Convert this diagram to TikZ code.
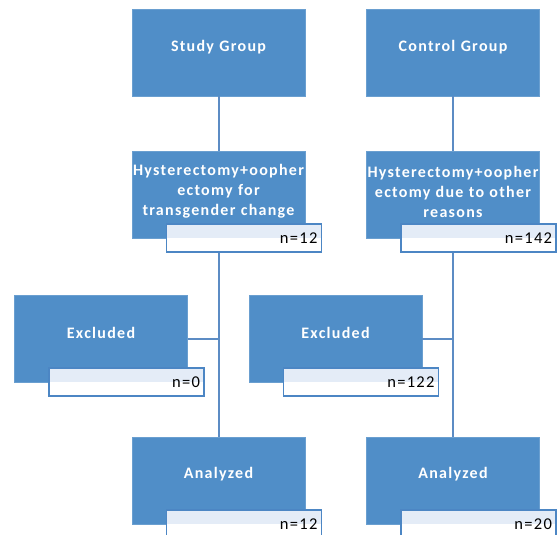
\documentclass[tikz,border=0pt]{standalone}
\usepackage{fontspec}
\setmainfont{Carlito}
\newfontfamily\boxfont[LetterSpace=8]{Carlito}
\usetikzlibrary{positioning}

\definecolor{boxblue}{RGB}{80,142,200}
\definecolor{annoline}{RGB}{76,134,196}
\definecolor{annofill}{RGB}{228,236,247}
\definecolor{linkblue}{RGB}{92,140,196}

\begin{document}
\begin{tikzpicture}[x=1pt, y=-1pt,
    blk/.style={fill=boxblue, draw=boxblue!85!white, minimum width=173pt, minimum height=87pt, inner sep=0pt},
    txt/.style={text=white, font=\boxfont\bfseries\fontsize{16}{20}\selectfont, align=center, text width=180pt, inner sep=0pt},
    cnt/.style={draw=annoline, line width=1.5pt, fill=white, minimum width=155pt, minimum height=28pt, inner sep=0pt,
      font=\boxfont\fontsize{16.5}{19}\selectfont, text width=147pt, align=right,
      path picture={\fill[annofill] (path picture bounding box.north west) rectangle (path picture bounding box.east);}},
    link/.style={draw=linkblue, line width=2pt}]
  \useasboundingbox (0,0) rectangle (558,535);

  % Nhom nghien cuu (ben trai)
  \node[blk] (study) at (218.5,52.5) {};
  \node[blk] (hystS) at (218.5,194.5) {};
  \node[blk] (exclS) at (101,338.5) {};
  \node[blk] (anaS) at (218.5,480.5) {};

  % Nhom doi chung (ben phai)
  \node[blk] (control) at (453,52.5) {};
  \node[blk] (hystC) at (453,194.5) {};
  \node[blk] (exclC) at (335.5,338.5) {};
  \node[blk] (anaC) at (453,480.5) {};

  % Chu trong cac khoi
  \node[txt] (studyT) at ([yshift=5pt]study.center) {Study Group};
  \node[txt] (controlT) at ([yshift=5pt]control.center) {Control Group};
  \node[txt] (hystST) at ([yshift=3pt]hystS.center) {Hysterectomy+oopher\\ectomy for\\transgender change};
  \node[txt] (hystCT) at ([yshift=3pt]hystC.center) {Hysterectomy+oopher\\ectomy due to other\\reasons};
  \node[txt] (exclST) at ([yshift=6pt]exclS.center) {Excluded};
  \node[txt] (exclCT) at ([yshift=6pt]exclC.center) {Excluded};
  \node[txt] (anaST) at ([yshift=6pt]anaS.center) {Analyzed};
  \node[txt] (anaCT) at ([yshift=6pt]anaC.center) {Analyzed};

  % O ghi so luong n
  \foreach \b/\n in {hystS/12, exclS/0, anaS/12, hystC/142, exclC/122, anaC/20} {
    \node[cnt, anchor=north west] (\b N) at ([xshift=34pt,yshift=15pt]\b.south west) {n=\n};
  }

  % Duong noi
  \draw[link] (study) -- (hystS);
  \draw[link] (control) -- (hystC);
  \draw[link] (hystS.south |- hystSN.south) -- (anaS);
  \draw[link] (hystC.south |- hystCN.south) -- (anaC);
  \draw[link] (exclS.east) -- (exclS.east -| hystS.south);
  \draw[link] (exclC.east) -- (exclC.east -| hystC.south);
\end{tikzpicture}
\end{document}
